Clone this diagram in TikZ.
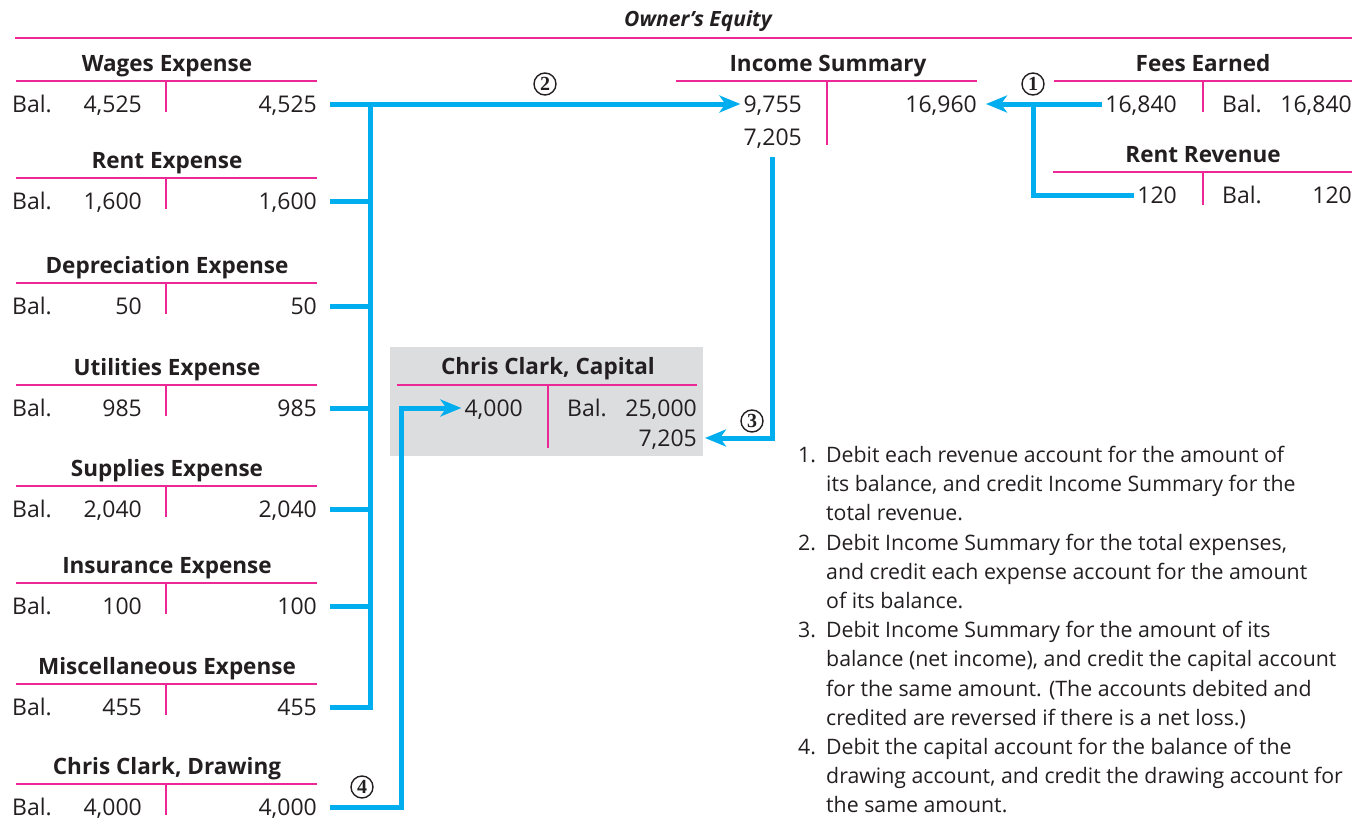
\documentclass[tikz,border=0pt]{standalone}
\usepackage{fontspec}
\setmainfont{Open Sans}
\newfontfamily\numserif{Liberation Serif}
\usetikzlibrary{arrows.meta}
\definecolor{rule}{RGB}{236,40,150}
\definecolor{flow}{RGB}{0,174,239}
\definecolor{ink}{RGB}{35,31,32}
\definecolor{capbox}{RGB}{220,221,223}
\begin{document}
\begin{tikzpicture}[x=1pt,y=-1pt,
  row/.style={font=\fontsize{23}{27}\selectfont, text=ink, inner sep=0pt, text height=16pt, text depth=0pt},
  head/.style={font=\fontsize{22.5}{27}\selectfont\bfseries, text=ink, inner sep=0pt, text height=16pt, text depth=0pt},
  listline/.style={font=\fontsize{21.3}{25}\selectfont, text=ink, inner sep=0pt, text height=15pt, text depth=0pt, anchor=west},
  tline/.style={draw=rule, line width=1.4pt},
  flowline/.style={draw=flow, line width=5pt, line join=miter},
  flowarrow/.style={flowline, -{Stealth[length=21pt, width=17pt, inset=6pt]}},
  stepno/.style={circle, draw=ink, line width=1.4pt, inner sep=0pt, minimum size=22pt, font=\fontsize{20}{20}\numserif\bfseries, text=ink}
]
\useasboundingbox (0,0) rectangle (1361,819);

% heading
\node[head, font=\fontsize{21}{26}\selectfont\bfseries\itshape] (oe) at (698,18) {Owner’s Equity};
\draw[tline] (15,38) -- (1352,38);

% expense and drawing accounts
\foreach \n/\t/\ly/\a in {wages/Wages Expense/81/{4,525}, rent/Rent Expense/178/{1,600},
    dep/Depreciation Expense/283/50, util/Utilities Expense/385/985,
    sup/Supplies Expense/486/{2,040}, ins/Insurance Expense/583/100,
    misc/Miscellaneous Expense/684/455, drawing/{Chris Clark, Drawing}/784/{4,000}} {
  \draw[tline] (16,\ly) -- (317,\ly);
  \draw[tline] (166,\ly) -- (166,\ly+31);
  \node[head] (\n-title) at (167,\ly-18) {\t};
  \node[row, anchor=west] (\n-bal) at (12,\ly+23) {Bal.};
  \node[row, anchor=east] (\n-dr) at (142,\ly+23) {\a};
  \node[row, anchor=east] (\n-cr) at (317,\ly+23) {\a};
}

% income summary
\node[head] (inc-title) at (828,63) {Income Summary};
\draw[tline] (676,81) -- (977,81);
\draw[tline] (827,81) -- (827,145);
\node[row, anchor=east] (inc-dr1) at (802,104) {9,755};
\node[row, anchor=east] (inc-dr2) at (802,137) {7,205};
\node[row, anchor=east] (inc-cr) at (977,104) {16,960};

% revenue accounts
\node[head] (fees-title) at (1203,63) {Fees Earned};
\draw[tline] (1054,81) -- (1352,81);
\draw[tline] (1203,81) -- (1203,112);
\node[row, anchor=east] (fees-dr) at (1177,104) {16,840};
\node[row, anchor=west] (fees-bal) at (1222,104) {Bal.};
\node[row, anchor=east] (fees-cr) at (1352,104) {16,840};

\node[head] (rr-title) at (1203,154) {Rent Revenue};
\draw[tline] (1053,172) -- (1352,172);
\draw[tline] (1203,172) -- (1203,205);
\node[row, anchor=east] (rr-dr) at (1177,195) {120};
\node[row, anchor=west] (rr-bal) at (1222,195) {Bal.};
\node[row, anchor=east] (rr-cr) at (1352,195) {120};

% capital account
\fill[capbox] (390,347) rectangle (703,456);
\node[head] (cap-title) at (548,366) {Chris Clark, Capital};
\draw[tline] (397,385) -- (697,385);
\draw[tline] (548,385) -- (548,448);
\node[row, anchor=east] (cap-dr) at (523,408) {4,000};
\node[row, anchor=west] (cap-bal) at (567,408) {Bal.};
\node[row, anchor=east] (cap-cr1) at (697,408) {25,000};
\node[row, anchor=east] (cap-cr2) at (697,438) {7,205};

% closing entries
\coordinate (spine) at (370,0);
\coordinate (revspine) at (1033,0);
\coordinate (netspine) at (772,0);
\coordinate (drawspine) at (401,0);

% (1) revenues to income summary
\draw[flowarrow] ([xshift=-3pt]fees-dr.west) -- ([xshift=9pt]inc-cr.east);
\draw[flowline] ([xshift=-3pt]rr-dr.west) -| (revspine |- fees-dr.west);
\node[stepno] (s1) at (1033,84) {1};

% (2) expenses to income summary
\draw[flowarrow] ([xshift=13pt]wages-cr.east) -- ([xshift=-3pt]inc-dr1.west);
\draw[flowline] ([xshift=13pt]misc-cr.east) -| (spine |- wages-cr.east);
\foreach \n in {rent,dep,util,sup,ins}
  \draw[flowline] ([xshift=13pt]\n-cr.east) -- (spine |- \n-cr.east);
\node[stepno] (s2) at (545,84) {2};

% (3) net income to capital
\draw[flowarrow] (netspine |- 0,157) |- ([xshift=8pt]cap-cr2.east);
\node[stepno] (s3) at (752,421) {3};

% (4) drawing to capital
\draw[flowarrow] ([xshift=13pt]drawing-cr.east) -| (drawspine |- cap-dr.west) -- ([xshift=-3pt]cap-dr.west);
\node[stepno] (s4) at (362,787) {4};

% explanation of the closing entries
\foreach \num/\y in {1./455, 2./543, 3./630, 4./747}
  \node[listline] at (798,\y) {\num};
\foreach \txt [count=\i from 0] in {
  Debit each revenue account for the amount of,
  {its balance, and credit Income Summary for the},
  total revenue.,
  {Debit Income Summary for the total expenses,},
  and credit each expense account for the amount,
  of its balance.,
  Debit Income Summary for the amount of its,
  {balance (net income), and credit the capital account},
  for the same amount. (The accounts debited and,
  credited are reversed if there is a net loss.),
  Debit the capital account for the balance of the,
  {drawing account, and credit the drawing account for},
  the same amount.}
  \node[listline] (note\i) at (826,455+29.2*\i) {\txt};
\end{tikzpicture}
\end{document}
